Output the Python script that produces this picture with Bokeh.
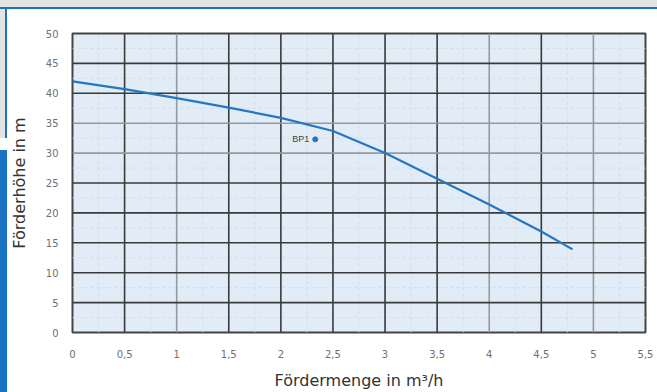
from bokeh.plotting import figure
from bokeh.embed import file_html
from bokeh.resources import INLINE
from bokeh.models import FixedTicker, Range1d
from bokeh.core.properties import value

# ---- data ----
flow = [0.0, 0.5, 1.0, 1.5, 2.0, 2.5, 3.0, 3.5, 4.0, 4.5, 4.8]
head = [42.0, 40.7, 39.2, 37.6, 35.9, 33.7, 30.0, 25.7, 21.4, 16.9, 13.9]
bp_flow = [2.33]
bp_head = [32.3]
bp_label = ["BP1"]

x_ticks = [0, 0.5, 1, 1.5, 2, 2.5, 3, 3.5, 4, 4.5, 5, 5.5]
x_tick_labels = ["0", "0,5", "1", "1,5", "2", "2,5", "3", "3,5", "4", "4,5", "5", "5,5"]
y_ticks = [0, 5, 10, 15, 20, 25, 30, 35, 40, 45, 50]
y_tick_labels = [str(t) for t in y_ticks]
x_light = [1, 4, 5]
y_light = [30, 35]

x_label = "Fördermenge in m³/h"
y_label = "Förderhöhe in m"

FONT = "Liberation Sans"
TFONT = "DejaVu Sans"

p = figure(width=657, height=392, output_backend="svg", toolbar_location=None,
           x_range=Range1d(0, 5.5), y_range=Range1d(0, 50),
           min_border_left=72, min_border_right=12, min_border_top=33, min_border_bottom=58)

p.background_fill_color = "#e2ecf6"
p.border_fill_color = "white"
p.border_fill_alpha = 0
p.outline_line_color = "#444444"
p.outline_line_width = 2

# page decoration behind the transparent border (CSS on the plot element)
blue = "#1a73c2"
grey = "#e4e4e4"
p.styles = {
    "background": (
        f"linear-gradient({blue},{blue}) 0px 7px / 100% 2px no-repeat, "
        f"linear-gradient({grey},{grey}) 0px 0px / 100% 7px no-repeat, "
        f"linear-gradient({blue},{blue}) 5px 7px / 2px 131px no-repeat, "
        f"linear-gradient({grey},{grey}) 0px 9px / 5px 129px no-repeat, "
        f"linear-gradient({blue},{blue}) 0px 150px / 7px 242px no-repeat, "
        "white"
    )
}

p.xgrid.grid_line_color = None
p.ygrid.grid_line_color = None

# faint minor grid
minor_x = [i * 0.25 for i in range(1, 22) if (i % 2) == 1]
minor_y = [i * 2.5 for i in range(1, 20) if (i % 2) == 1]
p.segment(x0=minor_x, x1=minor_x, y0=[0] * len(minor_x), y1=[50] * len(minor_x),
          line_color="#d2ddea", line_width=1, line_dash="3 3")
p.segment(x0=[0] * len(minor_y), x1=[5.5] * len(minor_y), y0=minor_y, y1=minor_y,
          line_color="#d2ddea", line_width=1, line_dash="3 3")

# major grid
vx = x_ticks[1:-1]
vcol = ["#959aa2" if t in x_light else "#3a3a3a" for t in vx]
p.segment(x0=vx, x1=vx, y0=[0] * len(vx), y1=[50] * len(vx), line_color=vcol, line_width=1.6)
hy = y_ticks[1:-1]
hcol = ["#959aa2" if t in y_light else "#3a3a3a" for t in hy]
p.segment(x0=[0] * len(hy), x1=[5.5] * len(hy), y0=hy, y1=hy, line_color=hcol, line_width=1.6)

# curve
p.line(flow, head, line_color="#2477c0", line_width=2.2)
p.scatter(bp_flow, bp_head, size=5, color="#2477c0")
p.text(x=bp_flow, y=bp_head, text=bp_label, x_offset=-6, text_align="right",
       text_baseline="middle", text_font_size="9px", text_color="#444444",
       text_font=value(FONT))

# axes
p.xaxis.ticker = FixedTicker(ticks=x_ticks)
p.yaxis.ticker = FixedTicker(ticks=y_ticks)
p.xaxis.major_label_overrides = {t: l for t, l in zip(x_ticks, x_tick_labels)}
p.yaxis.major_label_overrides = {t: l for t, l in zip(y_ticks, y_tick_labels)}
for ax in (p.xaxis, p.yaxis):
    ax.axis_line_color = None
    ax.major_tick_line_color = None
    ax.minor_tick_line_color = None
    ax.major_label_text_font = TFONT
    ax.major_label_text_font_size = "10px"
    ax.major_label_text_color = "#707070"
    ax.axis_label_text_font = TFONT
    ax.axis_label_text_font_size = "16px"
    ax.axis_label_text_font_style = "normal"
    ax.axis_label_text_color = "#333333"

p.xaxis.axis_label = x_label
p.yaxis.axis_label = y_label
p.xaxis.major_label_standoff = 11
p.xaxis.axis_label_standoff = 10
p.yaxis.major_label_standoff = 8
p.yaxis.axis_label_standoff = 14

open("out.html", "w").write(file_html(p, INLINE))
